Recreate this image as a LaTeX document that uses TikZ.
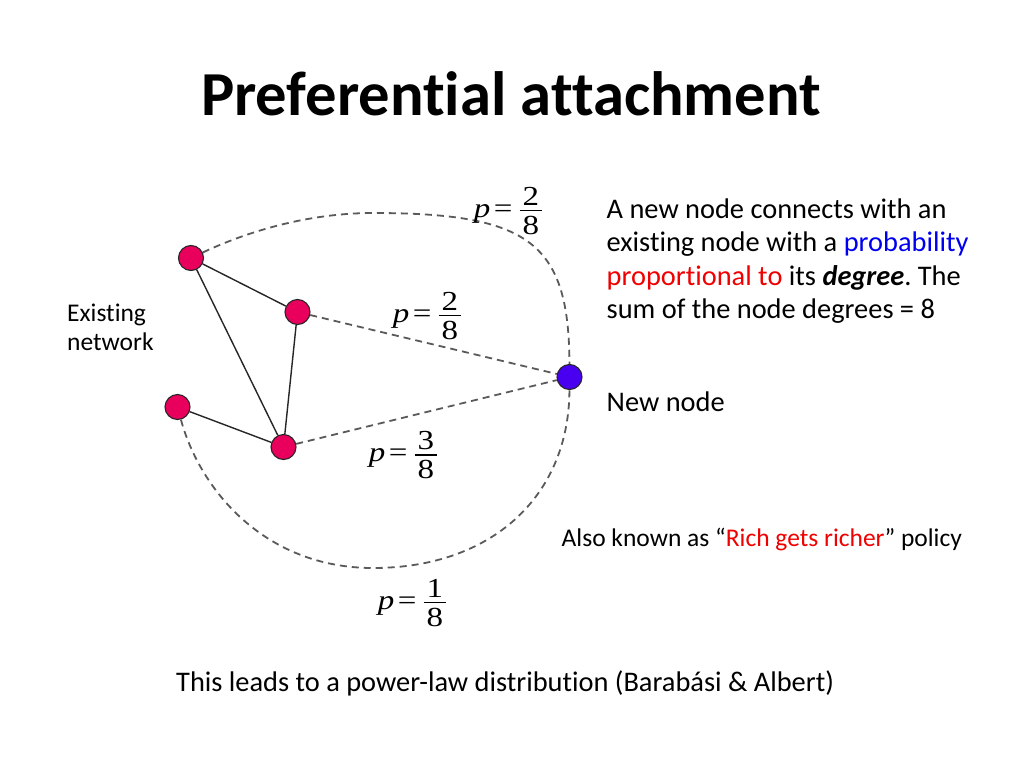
\documentclass[tikz,border=0pt]{standalone}
\usepackage{graphicx}
\usepackage{fontspec}
\setmainfont{Carlito}[Ligatures={NoCommon,NoRequired,NoContextual}]
\newfontfamily\tmfont{Liberation Serif}
\definecolor{nodepink}{HTML}{E8005C}
\definecolor{nodeblue}{HTML}{4A00F0}
\definecolor{dashgray}{HTML}{5A5A5A}
\definecolor{txtblue}{HTML}{0000F0}
\definecolor{txtred}{HTML}{F00000}
\newcommand{\pfrac}[2]{\scalebox{1.2}[1]{\textit{p}\kern3pt=\kern6pt$\vcenter{\offinterlineskip
  \hbox to 0.68em{\hfil#1\hfil}\kern5pt\hrule height 1.2pt\kern5pt\hbox to 0.68em{\hfil#2\hfil}}$}}
\frenchspacing
\begin{document}
\begin{tikzpicture}[x=1pt,y=-1pt,
  vtx/.style={circle, draw=black!85, line width=1.1pt, minimum size=25pt, inner sep=0pt, fill=nodepink},
  newvtx/.style={vtx, fill=nodeblue},
  edge/.style={draw=black!85, line width=1.4pt},
  prob/.style={draw=dashgray, line width=1.8pt, dash pattern=on 7pt off 5pt},
  plabel/.style={font=\tmfont\fontsize{27.5}{30}\selectfont, inner sep=0pt},
  bodytxt/.style={anchor=base west, inner sep=0pt, font=\fontsize{28.4}{34}\selectfont},
  smalltxt/.style={anchor=base west, inner sep=0pt, font=\fontsize{25.5}{30}\selectfont},
  titletxt/.style={anchor=base, inner sep=0pt, font=\bfseries\fontsize{62.6}{70}\selectfont}]
\fill[white] (0,0) rectangle (1024,768);
\useasboundingbox (0,0) rectangle (1024,768);

% title
\node[titletxt] (title) at (511,115) {Preferential attachment};

% graph nodes
\node[vtx] (A) at (191,258) {};
\node[vtx] (B) at (297.5,312) {};
\node[vtx] (C) at (177.5,407) {};
\node[vtx] (D) at (283.5,447) {};
\node[newvtx] (E) at (569.5,377) {};

% existing edges
\draw[edge] (A) -- (B);
\draw[edge] (A) -- (D);
\draw[edge] (B) -- (D);
\draw[edge] (C) -- (D);

% probabilistic connections
\coordinate (topmid) at (373,213);
\coordinate (botmid) at (373,568);
\draw[prob] (A) .. controls (255,228) and (315,213) .. (topmid)
                .. controls (530,213) and (569,243) .. (E);
\draw[prob] (B) -- (E);
\draw[prob] (D) -- (E);
\draw[prob] (C) .. controls (200,490) and (265,568) .. (botmid)
                .. controls (491,568) and (569,497) .. (E);

% probability labels
\node[plabel] (p1) at (508,211) {\pfrac{2}{8}};
\node[plabel] (p2) at (427,316) {\pfrac{2}{8}};
\node[plabel] (p3) at (403,455) {\pfrac{3}{8}};
\node[plabel] (p4) at (412,603) {\pfrac{1}{8}};

% side texts
\node[smalltxt] (ex1) at (67,321.7) {Existing};
\node[smalltxt] (ex2) at (67,350) {network};

\node[bodytxt] (l1) at (606.5,218) {A new node connects with an};
\node[bodytxt] (l2) at (606.5,251.5) {existing node with a \textcolor{txtblue}{probability}};
\node[bodytxt] (l3) at (606.5,285) {\textcolor{txtred}{proportional to} its \textbf{\itshape degree}. The};
\node[bodytxt] (l4) at (606.5,318.5) {sum of the node degrees = 8};

\node[bodytxt] (newn) at (606.5,411.7) {New node};

\node[smalltxt] (also) at (561.5,546.7) {Also known as “\textcolor{txtred}{Rich gets richer}” policy};

\node[bodytxt] (bottom) at (176,691) {This leads to a power-law distribution (Barabási \& Albert)};
\end{tikzpicture}
\end{document}
